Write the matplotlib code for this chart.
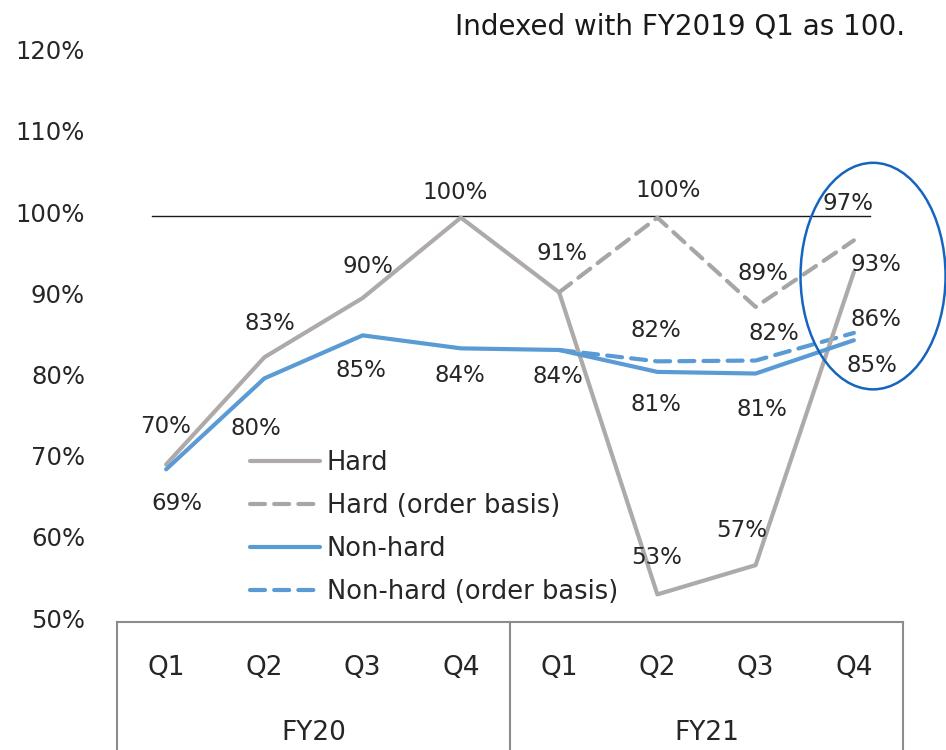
import matplotlib
matplotlib.use("Agg")
import matplotlib.pyplot as plt
import matplotlib.transforms as mtransforms
from matplotlib.patches import Ellipse
from matplotlib.lines import Line2D

# ---- data ----
quarters = ["Q1", "Q2", "Q3", "Q4", "Q1", "Q2", "Q3", "Q4"]
years = ["FY20", "FY21"]
hard = [69.4, 82.6, 89.9, 99.8, 90.6, 53.4, 57.0, 93.1]
hard_labels = ["70%", "83%", "90%", "100%", "91%", "53%", "57%", "93%"]
hard_order = [None, None, None, None, 90.6, 99.8, 88.8, 97.0]
hard_order_labels = [None, None, None, None, None, "100%", "89%", "97%"]
nonhard = [68.8, 80.0, 85.3, 83.7, 83.5, 80.8, 80.6, 84.7]
nonhard_labels = ["69%", "80%", "85%", "84%", "84%", "81%", "81%", "85%"]
nonhard_order = [None, None, None, None, 83.5, 82.1, 82.2, 85.6]
nonhard_order_labels = [None, None, None, None, None, "82%", "82%", "86%"]
yticks = [50, 60, 70, 80, 90, 100, 110, 120]

GRAY = "#AEAAAA"
GRAY_D = "#A6A6A6"
BLUE = "#5B9BD5"
TXT = "#262626"
FS = 16.5

plt.rcParams["font.family"] = ["DejaVu Sans"]

W, H = 946, 750
fig = plt.figure(figsize=(W / 100, H / 100), dpi=100)
x0, x1 = 117, 903
ybot, ytop = 622, 53.6
ax = fig.add_axes([x0 / W, 1 - ybot / H, (x1 - x0) / W, (ybot - ytop) / H])
ax.set_xlim(-0.5, 7.5)
ax.set_ylim(50, 120)
for s in ax.spines.values():
    s.set_visible(False)

xs = list(range(len(quarters)))

def seg(vals):
    px = [x for x, v in zip(xs, vals) if v is not None]
    py = [v for v in vals if v is not None]
    return px, py

lw = 3.0
DASH = (3.6, 2.2)
ax.plot(*seg(hard_order), color=GRAY_D, lw=lw, dashes=DASH,
        dash_capstyle="round", zorder=3)
ax.plot(*seg(nonhard_order), color=BLUE, lw=lw, dashes=DASH,
        dash_capstyle="round", zorder=3)
ax.plot(xs, hard, color=GRAY, lw=lw, solid_capstyle="round", zorder=4)
ax.plot(xs, nonhard, color=BLUE, lw=lw, solid_capstyle="round", zorder=4)

# reference line at 100%
ax.axhline(100, xmin=35 / 786, xmax=753 / 786, color="#1a1a1a", lw=1.0, zorder=2)

# data labels (offsets in pixels: dx, dy-up)
def lab(vals, labels, offs):
    for x, v, t, o in zip(xs, vals, labels, offs):
        if t is None or v is None:
            continue
        ax.annotate(t, (x, v), xytext=(o[0], o[1]), textcoords="offset pixels",
                    ha="center", va="center", fontsize=FS, color=TXT, zorder=5)

lab(hard, hard_labels, [(-1, 38), (6, 34), (5, 32), (-6, 25), (3, 39), (-1, 37), (-14, 35), (22, 8)])
lab(hard_order, hard_order_labels, [None] * 5 + [(11, 27), (7, 33), (-6, 37)])
lab(nonhard, nonhard_labels, [(11, -34), (-9, -50), (-2, -35), (-1, -27), (-1, -27), (-1, -33), (6, -36), (18, -25)])
lab(nonhard_order, nonhard_order_labels, [None] * 5 + [(-1, 31), (18, 27), (22, 13)])

# y tick labels
ax.set_yticks(yticks)
ax.set_yticklabels([f"{v}%" for v in yticks])
ax.tick_params(axis="y", length=0, pad=23, labelsize=17.5, labelcolor=TXT)
off = mtransforms.ScaledTranslation(0, 0.04, fig.dpi_scale_trans)
for t in ax.get_yticklabels():
    t.set_transform(t.get_transform() + off)

# x axis: quarters and fiscal years
ax.set_xticks(xs)
ax.set_xticklabels(quarters)
ax.tick_params(axis="x", length=0, pad=24, labelsize=19, labelcolor=TXT)
bt = mtransforms.blended_transform_factory(ax.transAxes, fig.transFigure)
AXC = "#8C8C8C"
for xv in (0, 0.5, 1):
    ax.add_line(Line2D([xv, xv], [1 - ybot / H, 0], transform=bt, color=AXC,
                       lw=1.5, clip_on=False))
ax.plot([0, 1], [0, 0], transform=ax.transAxes, color=AXC, lw=1.5, clip_on=False)
bt2 = mtransforms.blended_transform_factory(ax.transData, fig.transFigure)
for i, yname in enumerate(years):
    ax.text(1.5 + 4 * i, 1 - 733 / H, yname, transform=bt2, ha="center", va="center",
            fontsize=19, color=TXT)

# note
fig.text(905 / W, 1 - 26 / H, "Indexed with FY2019 Q1 as 100.", ha="right", va="center",
         fontsize=20, color="#1a1a1a")

# highlight ellipse
ax.add_patch(Ellipse((7.195, 92.6), 1.476, 27.9, fill=False, edgecolor="#1565C0",
                     lw=1.8, clip_on=False, zorder=6))

# legend
handles = [
    Line2D([], [], color=GRAY, lw=lw, solid_capstyle="round"),
    Line2D([], [], color=GRAY_D, lw=lw, dashes=DASH, dash_capstyle="round"),
    Line2D([], [], color=BLUE, lw=lw, solid_capstyle="round"),
    Line2D([], [], color=BLUE, lw=lw, dashes=DASH, dash_capstyle="round"),
]
names = ["Hard", "Hard (order basis)", "Non-hard", "Non-hard (order basis)"]
leg = fig.legend(handles, names, loc="upper left", bbox_to_anchor=(250 / W, 1 - 449.5 / H),
                 frameon=False, fontsize=18.5, handlelength=2.72, handletextpad=0.27,
                 labelspacing=0.67, borderpad=0, borderaxespad=0)
for t in leg.get_texts():
    t.set_color(TXT)

fig.savefig("out.png", dpi=100)
